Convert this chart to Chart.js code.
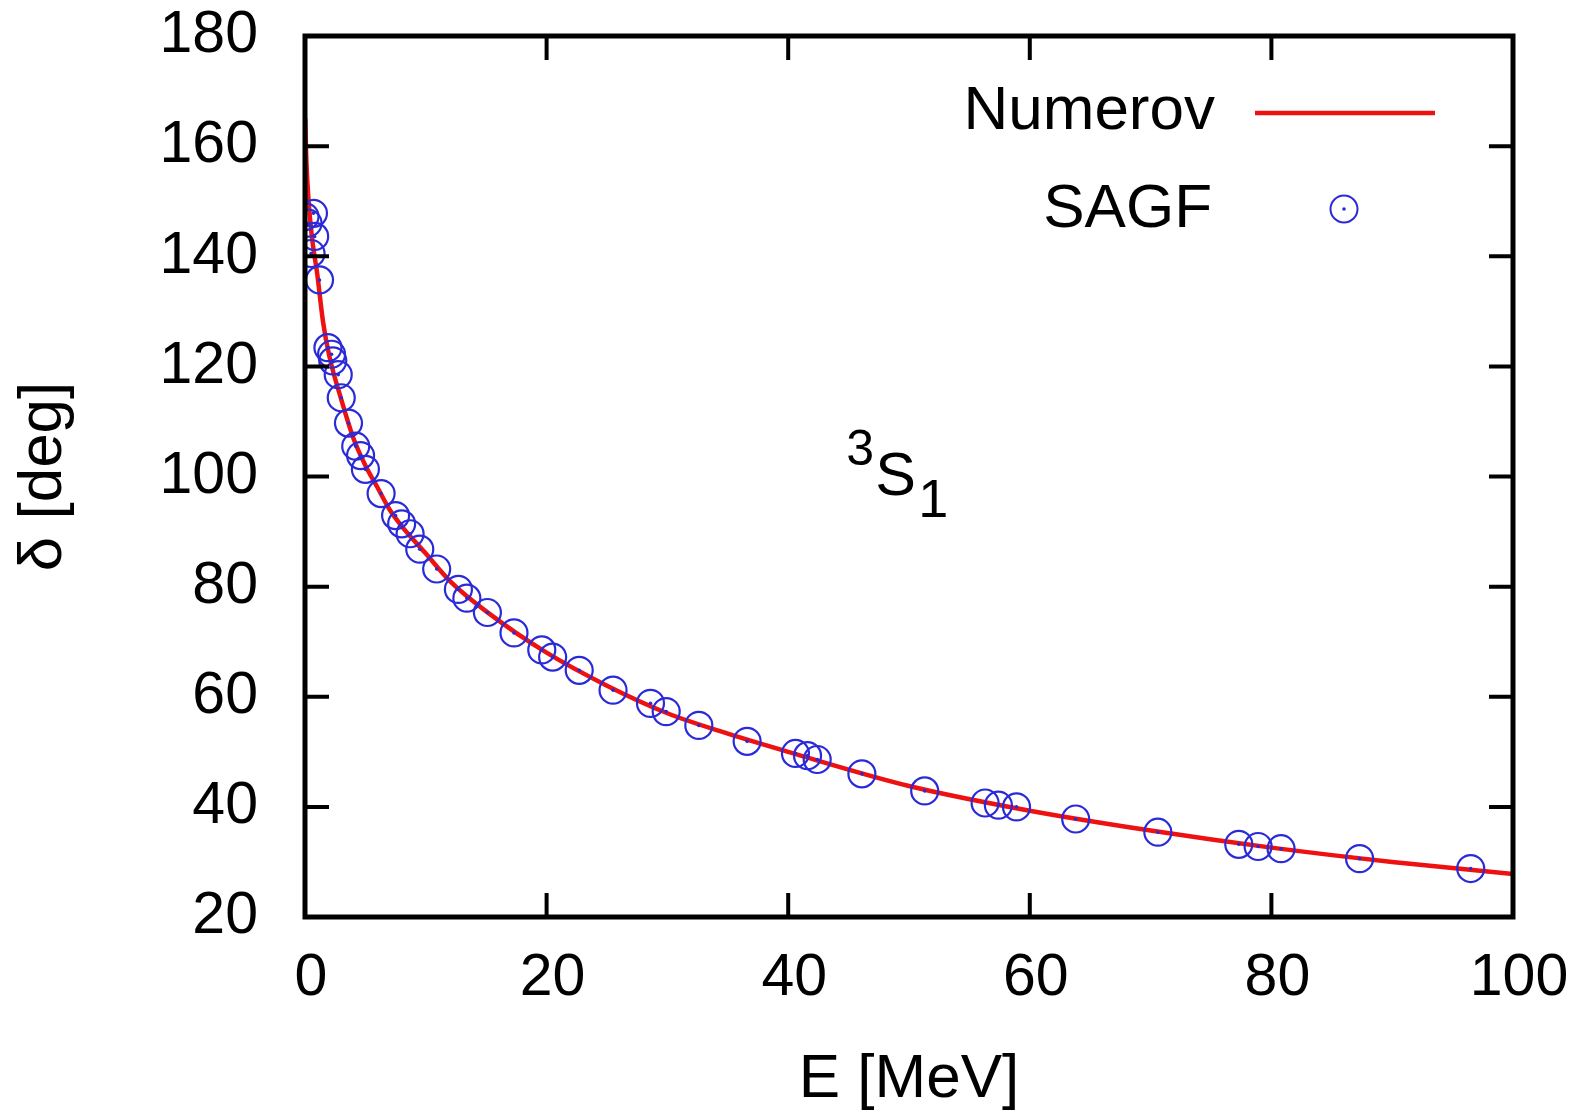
<!DOCTYPE html>
<html>
<head>
<meta charset="utf-8">
<script src="https://cdn.jsdelivr.net/npm/chart.js@4.4.1/dist/chart.umd.min.js"></script>
<style>
  html, body { margin: 0; padding: 0; background: #fff; }
  canvas { display: block; }
</style>
</head>
<body>
<canvas id="phase" width="1581" height="1113"></canvas>
<script>
// Numerov curve
const curveE = [0.02, 0.1, 0.3, 0.6, 1, 1.5, 2, 3, 4, 5, 6, 7, 8, 10, 12, 15, 20, 25, 30, 35, 40, 50, 60, 70, 80, 90, 100];
const curveDelta = [165, 158, 150, 143, 137, 128, 122, 114, 107, 102, 98, 94, 91, 86, 81, 75.5, 68, 62, 57, 53.3, 50, 43.8, 39.3, 35.7, 32.6, 30, 27.8];

// SAGF points
const sagfE = [0, 0.7, 0.25, 0.8, 0.5, 1.2, 1.9, 2.2, 2.3, 2.75, 3.0, 3.6, 4.2, 4.6, 5.0, 6.3, 7.5, 8.0, 8.7, 9.5, 10.9, 12.7, 13.4, 15.1, 17.3, 19.6, 20.5, 22.7, 25.5, 28.6, 29.9, 32.6, 36.6, 40.6, 41.6, 42.4, 46.1, 51.3, 56.3, 57.4, 58.9, 63.8, 70.6, 77.3, 78.9, 80.8, 87.3, 96.5];
const sagfDelta = [147.2, 147.8, 146, 143.6, 140.5, 135.7, 123.4, 122.2, 121, 118.5, 114.3, 109.7, 105.5, 103.8, 101.3, 96.9, 92.9, 91.4, 89.6, 86.8, 83.2, 79.5, 77.9, 75.3, 71.6, 68.5, 67.2, 64.8, 61.2, 58.8, 57.3, 54.8, 51.9, 49.7, 49.3, 48.6, 46.0, 42.9, 40.7, 40.3, 40.0, 37.8, 35.4, 33.2, 32.8, 32.4, 30.6, 28.8];

const xTicks = [0, 20, 40, 60, 80, 100];
const yTicks = [20, 40, 60, 80, 100, 120, 140, 160, 180];

const RED = "#ee1111";
const BLUE = "#2a2ad8";
const FONT = "Liberation Sans, Arial, sans-serif";

function pts(xs, ys) {
  return xs.map((x, i) => ({ x: x, y: ys[i] }));
}

// frame, inward ticks, legend and the 3S1 label
const decor = {
  id: "decor",
  afterDatasetsDraw(chart) {
    const ctx = chart.ctx;
    const a = chart.chartArea;
    const xs = chart.scales.x;
    const ys = chart.scales.y;
    ctx.save();
    ctx.strokeStyle = "#000";
    ctx.lineWidth = 4;
    const tl = 24;
    xTicks.forEach((v) => {
      const px = xs.getPixelForValue(v);
      ctx.beginPath();
      ctx.moveTo(px, a.bottom); ctx.lineTo(px, a.bottom - tl);
      ctx.moveTo(px, a.top); ctx.lineTo(px, a.top + tl);
      ctx.stroke();
    });
    yTicks.forEach((v) => {
      const py = ys.getPixelForValue(v);
      ctx.beginPath();
      ctx.moveTo(a.left, py); ctx.lineTo(a.left + tl, py);
      ctx.moveTo(a.right, py); ctx.lineTo(a.right - tl, py);
      ctx.stroke();
    });
    ctx.lineWidth = 5;
    ctx.strokeRect(a.left, a.top, a.right - a.left, a.bottom - a.top);

    // legend
    ctx.fillStyle = "#000";
    ctx.font = "62px " + FONT;
    ctx.textAlign = "right";
    ctx.textBaseline = "middle";
    ctx.fillText("Numerov", 1215, 112);
    ctx.fillText("SAGF", 1212, 210);
    ctx.strokeStyle = RED;
    ctx.lineWidth = 4.5;
    ctx.beginPath();
    ctx.moveTo(1255, 113); ctx.lineTo(1435, 113);
    ctx.stroke();
    ctx.strokeStyle = BLUE;
    ctx.lineWidth = 2;
    ctx.beginPath();
    ctx.arc(1344, 209, 13.5, 0, Math.PI * 2);
    ctx.stroke();
    ctx.fillStyle = BLUE;
    ctx.beginPath();
    ctx.arc(1344, 209, 1.8, 0, Math.PI * 2);
    ctx.fill();

    // 3S1 label
    const lx = xs.getPixelForValue(44.8);
    const ly = ys.getPixelForValue(96.6);
    ctx.fillStyle = "#000";
    ctx.textAlign = "left";
    ctx.textBaseline = "alphabetic";
    ctx.font = "50px " + FONT;
    ctx.fillText("3", lx, ly - 30);
    ctx.font = "61px " + FONT;
    ctx.fillText("S", lx + 29, ly);
    ctx.font = "54px " + FONT;
    ctx.fillText("1", lx + 72, ly + 22);
    ctx.restore();
  },
};

new Chart(document.getElementById("phase"), {
  type: "scatter",
  data: {
    datasets: [
      {
        label: "Numerov",
        type: "line",
        data: pts(curveE, curveDelta),
        borderColor: RED,
        borderWidth: 4.5,
        pointRadius: 0,
        cubicInterpolationMode: "monotone",
        fill: false,
        order: 3,
      },
      {
        label: "SAGF",
        data: pts(sagfE, sagfDelta),
        borderColor: BLUE,
        backgroundColor: "rgba(0,0,0,0)",
        borderWidth: 2.2,
        pointRadius: 13.5,
        pointHoverRadius: 13.5,
        order: 2,
      },
      {
        label: "SAGF centres",
        data: pts(sagfE, sagfDelta),
        borderColor: BLUE,
        backgroundColor: BLUE,
        borderWidth: 0,
        pointRadius: 1.8,
        order: 1,
      },
    ],
  },
  options: {
    responsive: false,
    animation: false,
    clip: { left: 0, top: 0, right: 0, bottom: 0 },
    layout: { padding: { top: 36, right: 68, left: 0, bottom: 0 } },
    plugins: {
      legend: { display: false },
      tooltip: { enabled: false },
    },
    scales: {
      x: {
        type: "linear",
        min: 0,
        max: 100,
        afterFit: (s) => { s.height = 196; s.paddingLeft = 0; s.paddingRight = 0; },
        afterBuildTicks: (s) => { s.ticks = xTicks.map((v) => ({ value: v })); },
        grid: { display: false, drawTicks: false },
        border: { display: false },
        ticks: {
          color: "#000",
          padding: 26,
          labelOffset: 6,
          font: { family: FONT, size: 59 },
        },
        title: {
          display: true,
          text: "E [MeV]",
          color: "#000",
          font: { family: FONT, size: 62, lineHeight: 1.08 },
          padding: { top: 0, bottom: 0 },
        },
      },
      y: {
        type: "linear",
        min: 20,
        max: 180,
        afterFit: (s) => { s.width = 305; s.paddingTop = 0; s.paddingBottom = 0; },
        afterBuildTicks: (s) => { s.ticks = yTicks.map((v) => ({ value: v })); },
        grid: { display: false, drawTicks: false },
        border: { display: false },
        ticks: {
          color: "#000",
          padding: 47,
          font: { family: FONT, size: 59 },
        },
        title: {
          display: true,
          text: "\u03b4 [deg]",
          color: "#000",
          font: { family: FONT, size: 62 },
          padding: { top: 7, bottom: 0 },
        },
      },
    },
  },
  plugins: [decor],
});
</script>
</body>
</html>
